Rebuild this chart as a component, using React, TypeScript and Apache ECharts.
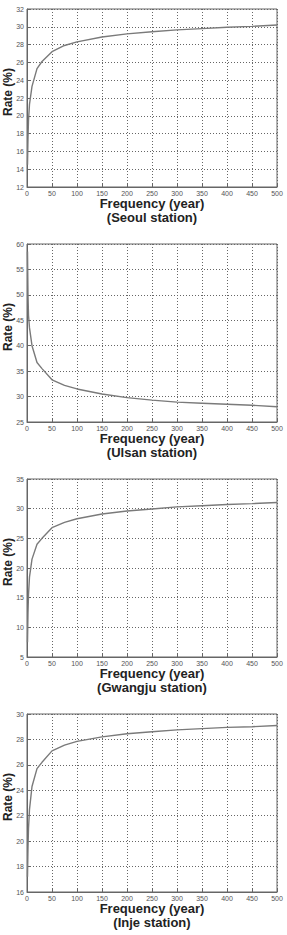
import React, { useEffect, useRef } from "react";
import * as echarts from "echarts";

const freq = [1, 2, 3, 5, 10, 20, 30, 50, 75, 100, 150, 200, 250, 300, 350, 400, 450, 500];
const seoul = [14.5, 17.5, 19.5, 21.3, 23.3, 25.3, 26.1, 27.2, 27.9, 28.3, 28.85, 29.2, 29.45, 29.65, 29.8, 29.95, 30.05, 30.2];
const ulsan = [58.5, 50, 46, 43.5, 40, 36.7, 35.5, 33.3, 32.2, 31.5, 30.5, 29.8, 29.3, 28.9, 28.7, 28.5, 28.3, 28.0];
const gwangju = [7.5, 12.5, 15.5, 18.5, 21.5, 24, 25, 26.8, 27.7, 28.3, 29.1, 29.6, 29.95, 30.3, 30.5, 30.7, 30.85, 31.05];
const inje = [17.2, 19.5, 21, 22.5, 24.3, 25.7, 26.2, 27.1, 27.55, 27.85, 28.2, 28.45, 28.6, 28.75, 28.85, 28.95, 29.0, 29.1];

const stations = ["(Seoul station)", "(Ulsan station)", "(Gwangju station)", "(Inje station)"];
const yRanges = [
  [12, 32, 2],
  [25, 60, 5],
  [5, 35, 5],
  [16, 30, 2],
];
const seriesData = [seoul, ulsan, gwangju, inje];

export default function App() {
  const ref = useRef<HTMLDivElement>(null);
  useEffect(() => {
    document.body.style.margin = "0";
    const chart = echarts.init(ref.current!, undefined, { renderer: "svg" });
    const tops = [9, 244, 479, 714];
    const left = 27;
    const width = 250;
    const height = 178;
    const font = "Liberation Sans";
    const grids = tops.map((t) => ({
      left,
      top: t,
      width,
      height,
      show: true,
      borderColor: "#666",
      borderWidth: 1,
      backgroundColor: "#fff",
    }));
    const axisCommon = {
      axisLine: { show: true, lineStyle: { color: "#666", width: 1 } },
      axisTick: { show: true, inside: true, length: 3, lineStyle: { color: "#666" } },
      axisLabel: { fontSize: 7, color: "#555", margin: 3, fontFamily: font },
      splitLine: { show: true, lineStyle: { color: "#666", type: [1, 2], width: 1 } },
    };
    const xAxes = tops.map((_, i) => ({
      type: "value",
      gridIndex: i,
      min: 0,
      max: 500,
      interval: 50,
      ...axisCommon,
    }));
    const yAxes = tops.map((_, i) => ({
      type: "value",
      gridIndex: i,
      min: yRanges[i][0],
      max: yRanges[i][1],
      interval: yRanges[i][2],
      ...axisCommon,
    }));
    const series = seriesData.map((d, i) => ({
      type: "line",
      xAxisIndex: i,
      yAxisIndex: i,
      data: freq.map((f, j) => [f, d[j]]),
      showSymbol: false,
      smooth: false,
      lineStyle: { color: "#7a7a7a", width: 1.4 },
    }));
    const graphic: any[] = [];
    tops.forEach((t, i) => {
      graphic.push({
        type: "text",
        x: 8,
        y: t + height / 2 - 6,
        rotation: Math.PI / 2,
        style: {
          text: "Rate (%)",
          font: `bold 12px "${font}"`,
          fill: "#222",
          align: "center",
          verticalAlign: "middle",
        },
      });
      graphic.push({
        type: "text",
        x: left + width / 2,
        y: t + height + 16,
        style: {
          text: "Frequency (year)",
          font: `bold 13px "${font}"`,
          fill: "#222",
          align: "center",
          verticalAlign: "middle",
        },
      });
      graphic.push({
        type: "text",
        x: left + width / 2,
        y: t + height + 30.5,
        style: {
          text: stations[i],
          font: `bold 13px "${font}"`,
          fill: "#222",
          align: "center",
          verticalAlign: "middle",
        },
      });
    });
    chart.setOption({
      animation: false,
      backgroundColor: "#fff",
      grid: grids,
      xAxis: xAxes,
      yAxis: yAxes,
      series,
      graphic,
    });
    return () => chart.dispose();
  }, []);
  return <div ref={ref} style={{ width: 287, height: 935 }} />;
}
